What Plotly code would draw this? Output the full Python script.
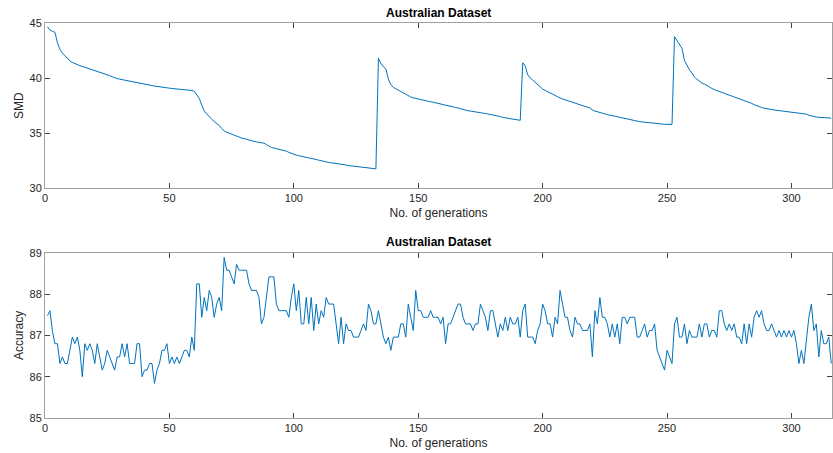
import plotly.graph_objects as go

# ---------------- data ----------------
smd = [
    44.66, 44.35, 44.25, 44.15, 43.2, 42.6, 42.28, 42.0, 41.75, 41.55,
    41.42, 41.3, 41.2, 41.12, 41.05, 40.98, 40.9, 40.84, 40.77, 40.68,
    40.6, 40.53, 40.45, 40.38, 40.3, 40.22, 40.12, 40.02, 39.95, 39.9,
    39.85, 39.8, 39.76, 39.72, 39.68, 39.63, 39.6, 39.55, 39.48, 39.43,
    39.38, 39.34, 39.3, 39.27, 39.24, 39.22, 39.2, 39.16, 39.12, 39.08,
    39.05, 39.03, 39.0, 38.98, 38.96, 38.94, 38.92, 38.9, 38.87, 38.8,
    38.45, 38.15, 37.55, 37.0, 36.75, 36.48, 36.25, 36.05, 35.88, 35.7,
    35.42, 35.2, 35.08, 34.98, 34.88, 34.8, 34.72, 34.62, 34.55, 34.5,
    34.42, 34.36, 34.3, 34.25, 34.2, 34.15, 34.13, 34.08, 33.95, 33.82,
    33.7, 33.64, 33.58, 33.55, 33.52, 33.45, 33.36, 33.25, 33.15, 33.07,
    33.0, 32.95, 32.88, 32.83, 32.78, 32.74, 32.7, 32.67, 32.6, 32.54,
    32.47, 32.42, 32.37, 32.33, 32.3, 32.27, 32.25, 32.24, 32.2, 32.15,
    32.1, 32.05, 32.02, 32.0, 31.96, 31.93, 31.9, 31.88, 31.84, 31.8,
    31.78, 31.76, 31.75,
    41.79, 41.33, 41.03, 40.82, 39.9, 39.4, 39.15, 39.02, 38.9, 38.78,
    38.6, 38.48, 38.36, 38.28, 38.2, 38.14, 38.08,
    38.03, 37.98, 37.93, 37.88, 37.84, 37.8, 37.74, 37.7, 37.65, 37.6,
    37.55, 37.5, 37.42, 37.38, 37.33, 37.28, 37.2, 37.12, 37.07, 37.03,
    37.0, 36.95, 36.9, 36.87, 36.84, 36.81, 36.78, 36.74, 36.7, 36.66,
    36.6, 36.55, 36.5, 36.42, 36.38, 36.33, 36.28, 36.24, 36.2, 36.18,
    36.16,
    41.39, 41.1, 40.3, 40.0, 39.82, 39.6, 39.42, 39.2, 39.0,
    38.88, 38.72, 38.64, 38.55, 38.42, 38.28, 38.18, 38.1, 38.02, 37.95,
    37.88, 37.82, 37.74, 37.65, 37.55, 37.48, 37.4, 37.35, 37.3, 37.1,
    37.0, 36.92, 36.86, 36.8, 36.74, 36.68, 36.63, 36.56, 36.5, 36.44,
    36.38, 36.33, 36.28, 36.22, 36.18, 36.14, 36.12, 36.08, 36.04, 36.01,
    35.98, 35.95, 35.93, 35.89, 35.86, 35.83, 35.82, 35.8, 35.8, 35.79,
    35.79, 35.79,
    43.76, 43.4, 43.0, 42.7, 41.6, 41.1, 40.75, 40.45,
    40.1, 39.9, 39.72, 39.55, 39.45, 39.36, 39.2, 39.05, 38.92, 38.85,
    38.78, 38.7, 38.6, 38.5, 38.4, 38.32, 38.23, 38.15, 38.08, 38.02,
    37.96, 37.88, 37.8, 37.7, 37.58, 37.48, 37.4, 37.32, 37.26, 37.2,
    37.18, 37.14, 37.1, 37.07, 37.03, 37.0, 36.98, 36.95, 36.92, 36.9,
    36.87, 36.84, 36.82, 36.79, 36.77, 36.72, 36.62, 36.55, 36.5, 36.46,
    36.43, 36.41, 36.39, 36.38, 36.37, 36.36,
]

accuracy = [
    87.48, 87.6, 87.1, 86.8, 86.8, 86.32, 86.48, 86.32, 86.32, 86.64,
    86.96, 86.8, 86.96, 86.64, 86.0, 86.8, 86.64, 86.8, 86.64, 86.32,
    86.8, 86.48, 86.16, 86.32, 86.64, 86.48, 86.32, 86.16, 86.48, 86.48,
    86.8, 86.48, 86.8, 86.32, 86.32, 86.32, 86.8, 86.8, 86.0, 86.16,
    86.16, 86.32, 86.32, 85.84, 86.16, 86.32, 86.64, 86.64, 86.8, 86.32,
    86.48, 86.32, 86.48, 86.32, 86.48, 86.64, 86.64, 86.48, 86.96, 86.64,
    88.25, 88.25, 87.44, 87.92, 87.6, 88.09, 87.92, 87.44, 87.76, 87.92,
    87.6, 88.89, 88.58, 88.58, 88.42, 88.25, 88.72, 88.58, 88.58, 88.58,
    88.58, 88.25, 88.09, 88.09, 88.09, 87.92, 87.28, 87.44, 87.92, 88.42,
    88.42, 88.42, 87.76, 87.6, 87.6, 87.6, 87.6, 87.44, 87.92, 88.25,
    87.6, 88.09, 87.28, 87.28, 87.92, 87.28, 87.92, 87.12, 87.76, 87.28,
    87.6, 87.44, 87.92, 87.76, 87.76, 87.76, 87.28, 86.8, 87.44, 86.8,
    87.28, 87.12, 87.12, 86.96, 86.96, 86.96, 87.12, 87.28, 87.12, 87.76,
    87.6, 87.28, 87.28, 87.6, 87.28, 86.96, 86.8, 86.96, 86.64, 86.96,
    86.96, 86.96, 87.28, 87.28, 86.96, 87.76, 87.44, 87.12, 88.09, 87.6,
    87.6, 87.44, 87.44, 87.44, 87.6, 87.44, 87.44, 87.44, 87.28, 87.44,
    86.8, 87.28, 87.28, 87.44, 87.6, 87.76, 87.76, 87.44, 87.28, 87.28,
    87.28, 87.12, 87.28, 87.28, 87.76, 87.6, 87.44, 87.12, 87.6, 87.6,
    87.28, 86.96, 87.28, 87.12, 87.44, 87.12, 87.44, 87.28, 87.28, 87.44,
    86.96, 87.6, 87.76, 86.96, 86.96, 86.96, 86.8, 87.12, 87.28, 87.76,
    87.6, 87.28, 87.28, 86.96, 87.44, 87.28, 88.09, 87.76, 87.44, 87.44,
    87.12, 86.96, 87.44, 87.28, 87.28, 87.12, 87.12, 87.12, 87.28, 86.48,
    87.6, 87.28, 87.92, 87.44, 87.44, 87.28, 86.96, 87.28, 86.96, 87.28,
    86.8, 87.44, 87.44, 87.28, 87.44, 87.44, 87.44, 86.96, 86.96, 87.12,
    87.28, 86.96, 87.12, 87.12, 87.28, 86.64, 86.48, 86.32, 86.16, 86.64,
    86.48, 86.32, 87.28, 87.44, 86.96, 86.96, 87.28, 86.8, 87.12, 86.96,
    86.96, 86.96, 87.28, 86.96, 87.28, 87.28, 86.96, 87.12, 87.12, 86.96,
    87.6, 87.6, 87.28, 87.12, 87.28, 87.12, 87.28, 86.96, 86.96, 86.8,
    87.28, 86.8, 87.28, 86.96, 87.44, 87.6, 87.44, 87.6, 87.28, 87.12,
    87.12, 87.28, 87.12, 86.96, 87.12, 86.96, 87.12, 86.96, 87.12, 86.96,
    87.12, 86.8, 86.32, 86.64, 86.32, 86.96, 87.44, 87.76, 87.12, 87.28,
    86.48, 87.12, 86.8, 86.8, 86.96, 86.32,
]

gen_smd = list(range(1, len(smd) + 1))
gen_acc = list(range(1, len(accuracy) + 1))

x_ticks = [0, 50, 100, 150, 200, 250, 300]
smd_ticks = [30, 35, 40, 45]
acc_ticks = [85, 86, 87, 88, 89]
title_text = "Australian Dataset"
x_title = "No. of generations"

# ---------------- figure ----------------
LINE = "#0072BD"
FONT = "Liberation Sans, Arial, Helvetica, sans-serif"

fig = go.Figure()
fig.add_trace(go.Scatter(x=gen_smd, y=smd, mode="lines",
                         line=dict(color=LINE, width=1), xaxis="x", yaxis="y",
                         showlegend=False, hoverinfo="skip"))
fig.add_trace(go.Scatter(x=gen_acc, y=accuracy, mode="lines",
                         line=dict(color=LINE, width=1), xaxis="x2", yaxis="y2",
                         showlegend=False, hoverinfo="skip"))

axis_common = dict(
    showline=True, linecolor="#a0a0a0", linewidth=1, mirror="ticks",
    ticks="inside", ticklen=5, tickcolor="#404040", tickwidth=1,
    showgrid=False, zeroline=False, automargin=False,
    tickfont=dict(family=FONT, size=11, color="#262626"),
)

xmax = 316.3
TOP_DOM = [0.582, 1.0]
BOT_DOM = [0.0, 0.418]
fig.update_layout(
    width=833, height=453,
    margin=dict(l=45, r=1, t=23, b=35),
    paper_bgcolor="white", plot_bgcolor="white",
    font=dict(family=FONT, color="#262626"),
    xaxis=dict(domain=[0, 1], range=[0, xmax], tickvals=x_ticks, anchor="y",
               title=dict(text=x_title, font=dict(size=12, color="#262626"), standoff=5),
               **axis_common),
    yaxis=dict(domain=TOP_DOM, range=[30, 45], tickvals=smd_ticks, anchor="x",
               title=dict(text="SMD", font=dict(size=12, color="#262626"), standoff=3),
               **axis_common),
    xaxis2=dict(domain=[0, 1], range=[0, xmax], tickvals=x_ticks, anchor="y2",
                title=dict(text=x_title, font=dict(size=12, color="#262626"), standoff=5),
                **axis_common),
    yaxis2=dict(domain=BOT_DOM, range=[85, 89], tickvals=acc_ticks, anchor="x2",
                title=dict(text="Accuracy", font=dict(size=12, color="#262626"), standoff=3),
                **axis_common),
    annotations=[
        dict(text="<b>" + title_text + "</b>", x=0.5, y=TOP_DOM[1], xref="paper", yref="paper",
             xanchor="center", yanchor="middle", yshift=10, showarrow=False,
             font=dict(family=FONT, size=12, color="#000000")),
        dict(text="<b>" + title_text + "</b>", x=0.5, y=BOT_DOM[1], xref="paper", yref="paper",
             xanchor="center", yanchor="middle", yshift=10.5, showarrow=False,
             font=dict(family=FONT, size=12, color="#000000")),
    ],
)

# remove the page's default 8px body margin so the figure fills the window
fig.write_html("out.html", config={"displayModeBar": False, "staticPlot": True},
               post_script="document.body.style.margin='0px';")
